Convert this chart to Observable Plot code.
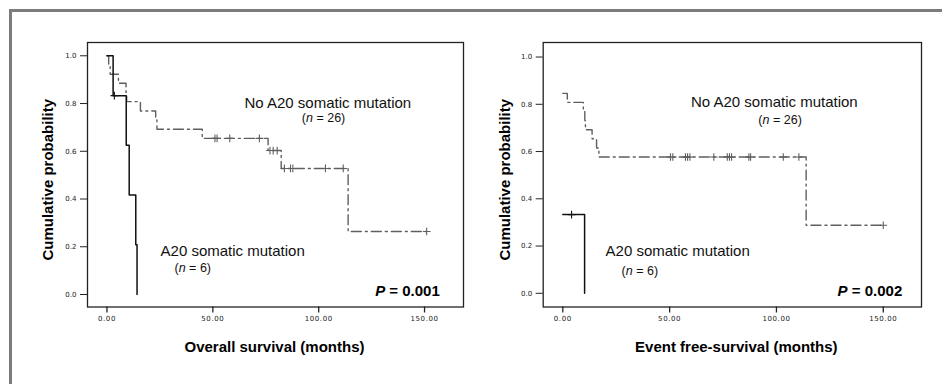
<!DOCTYPE html>
<html>
<head>
<meta charset="utf-8">
<script src="https://cdn.jsdelivr.net/npm/d3@7"></script>
<script src="https://cdn.jsdelivr.net/npm/@observablehq/plot@0.6"></script>
<style>
  html, body { margin: 0; padding: 0; background: #fff; }
  #wrap { position: relative; width: 942px; height: 384px; overflow: hidden; background: #fff; }
  #border { position: absolute; left: 9px; top: 9px; width: 940px; height: 380px;
            border-top: 3px solid #7c7c7c; border-left: 3px solid #7c7c7c; box-sizing: border-box; }
  .panel { position: absolute; top: 0; width: 471px; height: 384px; }
  #left { left: 0; }
  #right { left: 471px; }
</style>
</head>
<body>
<div id="wrap">
  <div id="border"></div>
  <div class="panel" id="left"></div>
  <div class="panel" id="right"></div>
</div>
<script>
// ---- Data: Overall survival ----
const osNoTime = [0, 0.8, 1.5, 5.4, 9.0, 9.3, 15.8, 23.0, 23.6, 45.0, 76.1, 82.3, 113.9, 151];
const osNoSurv = [1.0, 0.962, 0.923, 0.885, 0.846, 0.808, 0.769, 0.731, 0.692, 0.654, 0.603, 0.528, 0.264, 0.264];
const osNoCensorTime = [51, 52, 58, 72, 77, 78.5, 80.4, 83.8, 86.7, 87.8, 103.2, 111.6, 151];
const osNoCensorSurv = [0.654, 0.654, 0.654, 0.654, 0.603, 0.603, 0.603, 0.528, 0.528, 0.528, 0.528, 0.528, 0.264];
const osMutTime = [0, 2.9, 9.1, 10.5, 13.6, 14.2];
const osMutSurv = [1.0, 0.833, 0.625, 0.417, 0.208, 0.0];
const osMutCensorTime = [3.5];
const osMutCensorSurv = [0.833];

// ---- Data: Event free-survival ----
const efsNoTime = [0, 2.1, 9.6, 10.3, 10.6, 13.7, 15.8, 16.9, 113.9, 150];
const efsNoSurv = [0.846, 0.808, 0.769, 0.731, 0.692, 0.654, 0.615, 0.577, 0.288, 0.288];
const efsNoCensorTime = [50.4, 51.5, 57.4, 58.4, 59.5, 70.7, 77.0, 78.0, 79.0, 87.1, 87.9, 103.2, 110.5, 150];
const efsNoCensorSurv = [0.577, 0.577, 0.577, 0.577, 0.577, 0.577, 0.577, 0.577, 0.577, 0.577, 0.577, 0.577, 0.577, 0.288];
const efsMutTime = [0, 10.2];
const efsMutSurv = [0.333, 0.0];
const efsMutCensorTime = [4.1];
const efsMutCensorSurv = [0.333];

// ---- Ticks & labels ----
const xTicks = [0, 50, 100, 150];
const yTicks = [0, 0.2, 0.4, 0.6, 0.8, 1.0];
const yTitle = "Cumulative probability";
const noLabel = "No A20 somatic mutation";
const noN = "(n = 26)";
const mutLabel = "A20 somatic mutation";
const mutN = "(n = 6)";
const osTitle = "Overall survival (months)";
const efsTitle = "Event free-survival (months)";
const osP = "P = 0.001";
const efsP = "P = 0.002";

const SANS = "'Liberation Sans', Arial, sans-serif";
const TICKFONT = "'DejaVu Sans', sans-serif";
const GRAY = "#5f5f5f";

function toPts(t, s) { return t.map((d, i) => ({t: d, s: s[i]})); }

function panel(o) {
  const noPts = toPts(o.noT, o.noS);
  const muPts = toPts(o.muT, o.muS);
  const noC = toPts(o.noCT, o.noCS);
  const muC = toPts(o.muCT, o.muCS);
  const at = (v) => () => v;
  const svg = Plot.plot({
    width: 471, height: 384,
    marginLeft: o.ml, marginRight: o.mr, marginTop: 42, marginBottom: 77.5,
    style: {fontFamily: SANS, background: "transparent", overflow: "visible"},
    x: {domain: o.xd},
    y: {domain: o.yd},
    marks: [
      Plot.frame({stroke: "#222", strokeWidth: 1.3}),
      Plot.axisX({ticks: xTicks, tickFormat: d => d.toFixed(2), tickSize: 6, tickPadding: 3,
                  fontSize: 7, fontFamily: TICKFONT, fill: "#222", stroke: "#222", strokeWidth: 1.3, label: null}),
      Plot.axisY({ticks: yTicks, tickFormat: d => d.toFixed(1), tickSize: 7, tickPadding: 4,
                  fontSize: 7, fontFamily: TICKFONT, fill: "#222", stroke: "#222", strokeWidth: 1, label: null}),
      Plot.line(noPts, {x: "t", y: "s", curve: "step-after", stroke: GRAY, strokeWidth: 1.4,
                        strokeDasharray: "10,4,2,4"}),
      Plot.dot(noC, {x: "t", y: "s", symbol: "plus", r: 2.6, stroke: GRAY, strokeWidth: 1.1}),
      Plot.line(muPts, {x: "t", y: "s", curve: "step-after", stroke: "#111", strokeWidth: 1.5}),
      Plot.dot(muC, {x: "t", y: "s", symbol: "plus", r: 2.6, stroke: "#111", strokeWidth: 1.1}),
      Plot.text([noLabel], {x: at(o.noLx), y: at(o.noLy), text: d => d, fontSize: 15, fill: "#111", textAnchor: "middle"}),
      Plot.text([noN], {x: at(o.noNx), y: at(o.noNy), text: d => d, fontSize: 12.5, fill: "#111", textAnchor: "middle"}),
      Plot.text([mutLabel], {x: at(o.muLx), y: at(o.muLy), text: d => d, fontSize: 15, fill: "#111", textAnchor: "start"}),
      Plot.text([mutN], {x: at(o.muNx), y: at(o.muNy), text: d => d, fontSize: 12.5, fill: "#111", textAnchor: "start"}),
      Plot.text([o.p], {x: at(o.px), y: at(o.py), text: d => d, fontSize: 15, fontWeight: "bold", fill: "#000", textAnchor: "end"}),
      Plot.text([o.xTitle], {frameAnchor: "bottom", dy: 44.5, dx: o.xtdx, fontSize: 15, fontWeight: "bold", fill: "#000", textAnchor: "middle"}),
      Plot.text([yTitle], {frameAnchor: "left", rotate: -90, dx: o.ytdx, dy: 5, fontSize: 15, fontWeight: "bold", fill: "#000", textAnchor: "middle"})
    ]
  });
  d3.select(svg).selectAll('g[aria-label="x-axis tick label"] text').style("letter-spacing", "0.6px");
  // italicise the statistical symbols
  d3.select(svg).selectAll("text").each(function() {
    const txt = this.textContent;
    let m = txt.match(/^\(n = (\d+)\)$/);
    if (m && this.childNodes.length === 1 && this.firstChild.nodeType === 3) {
      const el = d3.select(this);
      this.textContent = "";
      el.append("tspan").text("(");
      el.append("tspan").attr("font-style", "italic").text("n");
      el.append("tspan").text(" = " + m[1] + ")");
    }
    m = txt.match(/^P = (.+)$/);
    if (m && this.childNodes.length === 1 && this.firstChild.nodeType === 3) {
      const el = d3.select(this);
      this.textContent = "";
      el.append("tspan").attr("font-style", "italic").text("P");
      el.append("tspan").text(" = " + m[1]);
    }
  });
  return svg;
}

document.getElementById("left").appendChild(panel({
  ml: 87, mr: 8, xd: [-9.2, 168.4], yd: [-0.0524, 1.0557],
  noT: osNoTime, noS: osNoSurv, noCT: osNoCensorTime, noCS: osNoCensorSurv,
  muT: osMutTime, muS: osMutSurv, muCT: osMutCensorTime, muCS: osMutCensorSurv,
  noLx: 104.3, noLy: 0.803, noNx: 102.3, noNy: 0.740,
  muLx: 25.3, muLy: 0.1835, muNx: 31.9, muNy: 0.110,
  p: osP, px: 157.2, py: 0.013,
  xTitle: osTitle, xtdx: -1, ytdx: -39
}));

document.getElementById("right").appendChild(panel({
  ml: 71.7, mr: 21, xd: [-9.18, 167.9], yd: [-0.058, 1.0615],
  noT: efsNoTime, noS: efsNoSurv, noCT: efsNoCensorTime, noCS: efsNoCensorSurv,
  muT: efsMutTime, muS: efsMutSurv, muCT: efsMutCensorTime, muCS: efsMutCensorSurv,
  noLx: 99.0, noLy: 0.808, noNx: 101.7, noNy: 0.734,
  muLx: 20.0, muLy: 0.179, muNx: 27.5, muNy: 0.0956,
  p: efsP, px: 158.9, py: 0.0105,
  xTitle: efsTitle, xtdx: 4, ytdx: -37.7
}));
</script>
</body>
</html>
